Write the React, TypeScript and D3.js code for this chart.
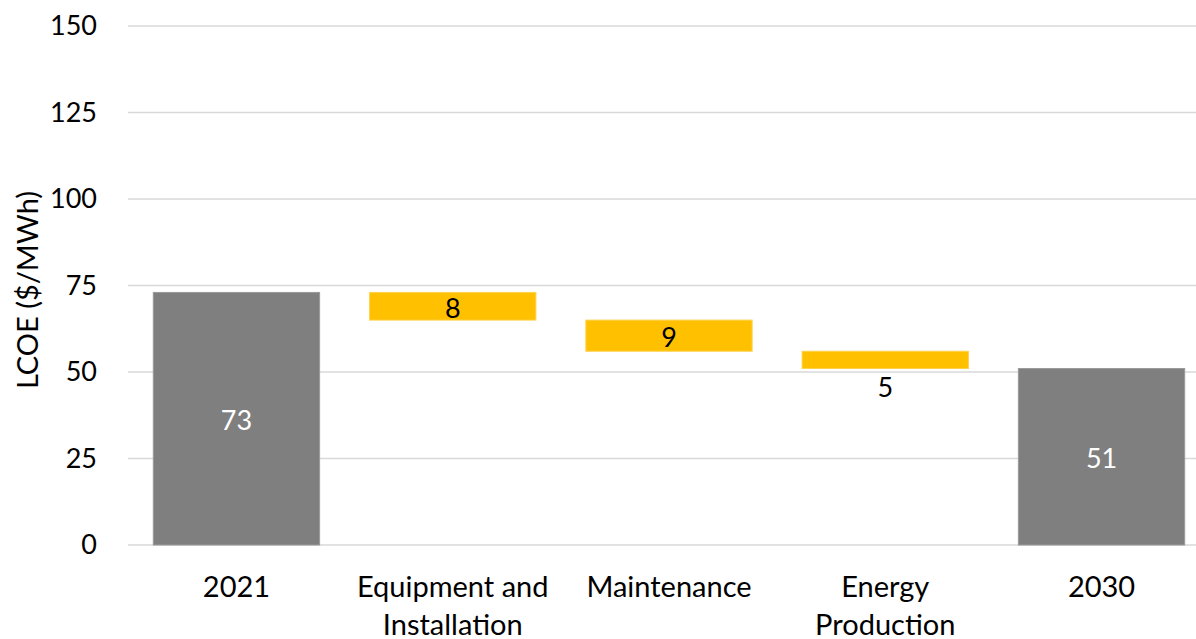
import React, { useEffect, useRef } from 'react';
import * as d3 from 'd3';

// waterfall data
const categories = ['2021', 'Equipment and Installation', 'Maintenance', 'Energy Production', '2030'];
const values = [73, -8, -9, -5, 51];
const isTotal = [true, false, false, false, true];
const yTicks = [0, 25, 50, 75, 100, 125, 150];
const yTitle = 'LCOE ($/MWh)';

const App = () => {
  const ref = useRef<SVGSVGElement>(null);

  useEffect(() => {
    const width = 1196;
    const height = 639;
    const margin = { top: 26, left: 128, bottom: 94 };

    const svg = d3.select(ref.current);
    svg.selectAll('*').remove();

    const font = 'Lato, "Open Sans", sans-serif';

    const y = d3.scaleLinear()
      .domain([0, 150])
      .range([height - margin.bottom, margin.top]);

    const x = d3.scaleBand()
      .domain(categories)
      .range([margin.left, 1210])
      .paddingInner(0.231)
      .paddingOuter(0.117);

    // running totals for floating bars
    let running = 0;
    const bars = categories.map((c, i) => {
      let lo, hi;
      if (isTotal[i]) {
        lo = 0; hi = values[i]; running = values[i];
      } else {
        const next = running + values[i];
        lo = Math.min(running, next); hi = Math.max(running, next);
        running = next;
      }
      return { c, lo, hi, v: Math.abs(values[i]), total: isTotal[i] };
    });

    // gridlines
    svg.append('g')
      .selectAll('line')
      .data(yTicks)
      .enter()
      .append('line')
      .attr('x1', margin.left)
      .attr('x2', width)
      .attr('y1', d => y(d))
      .attr('y2', d => y(d))
      .attr('stroke', '#d9d9d9')
      .attr('stroke-width', 1.5);

    // y tick labels
    svg.append('g')
      .selectAll('text')
      .data(yTicks)
      .enter()
      .append('text')
      .attr('x', 97)
      .attr('y', d => y(d))
      .attr('dy', '0.35em')
      .attr('text-anchor', 'end')
      .attr('font-family', font)
      .attr('font-size', 27)
      .attr('fill', '#000')
      .text(d => d);

    // y title
    svg.append('text')
      .attr('transform', `translate(38,290) rotate(-90)`)
      .attr('text-anchor', 'middle')
      .attr('font-family', font)
      .attr('font-size', 29)
      .attr('fill', '#000')
      .text(yTitle);

    // bars
    svg.append('g')
      .selectAll('rect')
      .data(bars)
      .enter()
      .append('rect')
      .attr('x', d => x(d.c))
      .attr('width', x.bandwidth())
      .attr('y', d => y(d.hi))
      .attr('height', d => y(d.lo) - y(d.hi))
      .attr('fill', d => d.total ? '#7f7f7f' : '#ffc000')
      .attr('stroke', d => d.total ? '#9a9a9a' : '#ffd24d')
      .attr('stroke-width', 1);

    // value labels
    svg.append('g')
      .selectAll('text')
      .data(bars)
      .enter()
      .append('text')
      .attr('x', d => x(d.c) + x.bandwidth() / 2)
      .attr('y', d => {
        const h = y(d.lo) - y(d.hi);
        return h < 24 ? y(d.lo) + 19 : (y(d.lo) + y(d.hi)) / 2 + 2;
      })
      .attr('dy', '0.35em')
      .attr('text-anchor', 'middle')
      .attr('font-family', font)
      .attr('font-size', 27)
      .attr('fill', d => d.total ? '#fff' : '#000')
      .text(d => d.v);

    // x category labels, wrapped to two lines
    const wrap: Record<string, string[]> = {
      'Equipment and Installation': ['Equipment and', 'Installation'],
      'Energy Production': ['Energy', 'Production'],
    };
    const xl = svg.append('g')
      .selectAll('text')
      .data(categories)
      .enter()
      .append('text')
      .attr('x', d => x(d) + x.bandwidth() / 2)
      .attr('y', 597)
      .attr('text-anchor', 'middle')
      .attr('font-family', font)
      .attr('font-size', 29)
      .attr('fill', '#000');
    xl.each(function (d) {
      const lines = wrap[d] || [d];
      const t = d3.select(this);
      lines.forEach((l, i) => {
        t.append('tspan')
          .attr('x', x(d) + x.bandwidth() / 2)
          .attr('dy', i === 0 ? 0 : 38)
          .text(l);
      });
    });
  }, []);

  return (
    <svg ref={ref} width={1196} height={639}
      style={{ position: 'absolute', left: 0, top: 0, background: '#fff' }} />
  );
};

export default App;
